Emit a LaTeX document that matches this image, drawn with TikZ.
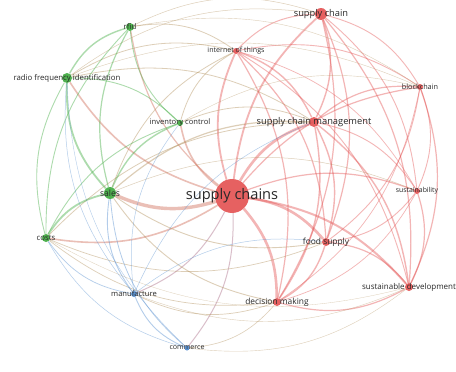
\documentclass[tikz,border=0pt]{standalone}
\usepackage{fontspec}
\setmainfont{Open Sans}
\usetikzlibrary{backgrounds}

\definecolor{vosred}{RGB}{228,80,80}
\definecolor{vosgreen}{RGB}{60,170,60}
\definecolor{vosblue}{RGB}{75,135,205}
\definecolor{vosmix}{RGB}{175,140,85}
\definecolor{voslabel}{RGB}{40,40,40}

\begin{document}
\begin{tikzpicture}[x=1pt, y=-1pt,
    term/.style={circle, inner sep=0pt, minimum size=#1, fill opacity=0.9},
    redterm/.style={term=#1, fill=vosred},
    greenterm/.style={term=#1, fill=vosgreen},
    blueterm/.style={term=#1, fill=vosblue},
    termlabel/.style={inner sep=0pt, text=voslabel, font=\fontsize{#1}{#1}\selectfont},
    link/.style={line width=#1, opacity=0.42}
]
    \useasboundingbox (0,0) rectangle (456,372);

    % Terms (red cluster)
    \node[redterm=34] (sc)   at (232,196) {};
    \node[redterm=12] (sch)  at (321,14)  {};
    \node[redterm=6]  (iot)  at (236,51)  {};
    \node[redterm=6]  (bc)   at (420,87)  {};
    \node[redterm=10] (scm)  at (314,122) {};
    \node[redterm=6]  (sust) at (417,191) {};
    \node[redterm=8]  (food) at (326,242) {};
    \node[redterm=8]  (sdev) at (409,287) {};
    \node[redterm=8]  (dm)   at (277,302) {};

    % Terms (green cluster)
    \node[greenterm=8]  (rfid)  at (130,27)  {};
    \node[greenterm=10] (rfi)   at (67,78)   {};
    \node[greenterm=6]  (inv)   at (180,123) {};
    \node[greenterm=12] (sales) at (110,193) {};
    \node[greenterm=8]  (costs) at (46,238)  {};

    % Terms (blue cluster)
    \node[blueterm=6] (manu) at (134,294) {};
    \node[blueterm=5] (comm) at (187,348) {};

    % Labels
    \node[termlabel=14.6] (sc-lab)    at (sc)    {supply chains};
    \node[termlabel=9.3]  (sch-lab)   at (sch)   {supply chain};
    \node[termlabel=7.1]  (iot-lab)   at (iot)   {internet of things};
    \node[termlabel=7.3]  (bc-lab)    at (bc)    {blockchain};
    \node[termlabel=9.3]  (scm-lab)   at (scm)   {supply chain management};
    \node[termlabel=6.9]  (sust-lab)  at (sust)  {sustainability};
    \node[termlabel=8.4]  (food-lab)  at (food)  {food supply};
    \node[termlabel=8]    (sdev-lab)  at (sdev)  {sustainable development};
    \node[termlabel=8.4]  (dm-lab)    at (dm)    {decision making};
    \node[termlabel=7.8]  (rfid-lab)  at (rfid)  {rfid};
    \node[termlabel=7.8]  (rfi-lab)   at (rfi)   {radio frequency identification};
    \node[termlabel=7.6]  (inv-lab)   at (inv)   {inventory control};
    \node[termlabel=8.6]  (sales-lab) at (sales) {sales};
    \node[termlabel=7.8]  (costs-lab) at (costs) {costs};
    \node[termlabel=7.6]  (manu-lab)  at (manu)  {manufacture};
    \node[termlabel=7.1]  (comm-lab)  at (comm)  {commerce};

    % Links
    \begin{scope}[on background layer]
        \fill[white] (0,0) rectangle (456,372);
        % from the main term
        \foreach \a/\b/\w/\c in {sc/sch/1.8/vosred, sc/iot/1.8/vosred, sc/scm/2.6/vosred,
            sc/bc/1.2/vosred, sc/sust/1.2/vosred, sc/food/2.6/vosred, sc/sdev/2/vosred,
            sc/dm/2.6/vosred, sc/sales/3.4/vosmix, sc/rfi/1.6/vosmix, sc/rfid/1.2/vosmix,
            sc/inv/1.6/vosmix, sc/costs/1.6/vosmix, sc/manu/1/vosblue, sc/comm/1/vosblue}
            \draw[link=\w, vosred!60!\c] (\a) to[bend left=20] (\b);
        % red cluster
        \foreach \a/\b/\w in {sch/scm/1.4, sch/bc/0.9, sch/sust/0.9, sch/sdev/1.2, sch/food/1.2,
            sch/dm/1.2, iot/sch/1, iot/scm/1.4, iot/bc/0.9, iot/food/1.2, iot/sdev/0.9,
            iot/dm/1.2, iot/sust/0.7, scm/bc/1.2, scm/sust/0.9, scm/food/1.4, scm/sdev/1.4,
            scm/dm/1.4, bc/sust/0.9, bc/sdev/1.2, bc/food/0.9, bc/dm/0.7, sust/sdev/1.2,
            sust/food/0.9, sust/dm/0.7, food/sdev/1.2, food/dm/1.4, sdev/dm/1.2}
            \draw[link=\w, vosred] (\a) to[bend left=22] (\b);
        % between clusters
        \foreach \a/\b/\w in {rfid/sch/0.5, rfi/sch/0.5, rfi/iot/0.8, inv/iot/0.8,
            sales/iot/0.8, rfid/iot/0.8, sales/scm/1.2, costs/scm/0.8, rfi/scm/0.8,
            inv/scm/0.8, rfi/bc/0.4, rfid/bc/0.4, inv/bc/0.4, sales/sust/0.5,
            food/sales/0.9, food/costs/0.7, dm/sales/0.9, dm/costs/0.7,
            sdev/comm/0.4, sdev/manu/0.4, dm/comm/0.6, dm/manu/0.7, sdev/costs/0.3}
            \draw[link=\w, vosmix] (\a) to[bend left=22] (\b);
        % green cluster
        \foreach \a/\b/\w in {costs/sales/1.8, costs/rfi/0.9, costs/inv/0.9, costs/rfid/0.9,
            sales/rfi/1.8, sales/inv/1.4, sales/rfid/1.2, rfi/inv/0.9, rfi/rfid/1.4,
            inv/rfid/0.9}
            \draw[link=\w, vosgreen] (\a) to[bend left=22] (\b);
        % blue cluster
        \foreach \a/\b/\w in {comm/manu/0.9, comm/costs/0.5, comm/sales/0.8, comm/rfi/0.4,
            manu/costs/0.7, manu/sales/0.9, manu/rfi/0.5, manu/inv/0.5, manu/scm/0.5,
            manu/food/0.5}
            \draw[link=\w, vosblue] (\a) to[bend left=22] (\b);
    \end{scope}
\end{tikzpicture}
\end{document}
